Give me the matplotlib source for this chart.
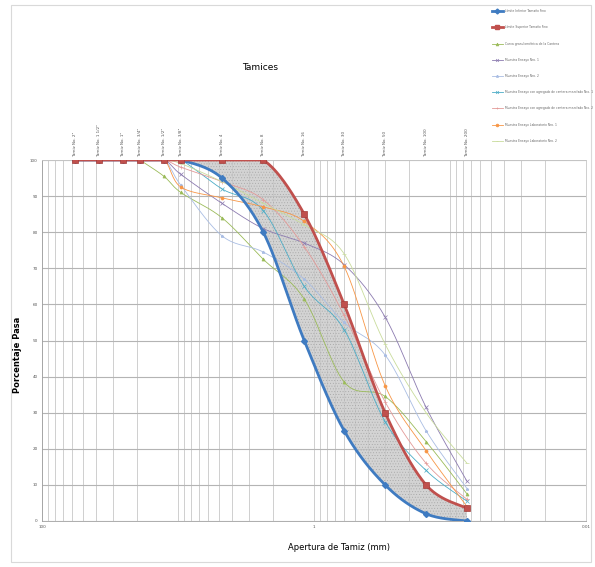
import numpy as np
import matplotlib
matplotlib.use('Agg')
import matplotlib.pyplot as plt
from matplotlib.ticker import FixedLocator, LogLocator, NullFormatter, NullLocator
from matplotlib.patches import Rectangle

# tamices y aberturas (mm)
tamices = ['Tamiz No. 2"', 'Tamiz No. 1 1/2"', 'Tamiz No. 1"', 'Tamiz No. 3/4"',
           'Tamiz No. 1/2"', 'Tamiz No. 3/8"', 'Tamiz No. 4', 'Tamiz No. 8',
           'Tamiz No. 16', 'Tamiz No. 30', 'Tamiz No. 50', 'Tamiz No. 100', 'Tamiz No. 200']
aberturas = [57.0, 38.1, 25.4, 19.05, 12.7, 9.525, 4.75, 2.36, 1.18, 0.6, 0.3, 0.15, 0.075]

lim_inf = [100, 100, 100, 100, 100, 100, 95, 80, 50, 25, 10, 2, 0]
lim_sup = [100, 100, 100, 100, 100, 100, 100, 100, 85, 60, 30, 10, 3.5]

# muestras (desde 3/4")
ab_m = aberturas[3:]
m_cantera = [100, 95.5, 91, 84, 72.5, 61.5, 38.5, 34.5, 22, 7.5]
m_ensayo1 = [100, 100, 96, 88, 81, 77, 71, 56.5, 31.5, 11]
m_ensayo2 = [100, 100, 93, 79, 74.5, 67, 55, 46, 25, 9]
m_mezcla1 = [100, 100, 100, 92, 86, 65, 53, 27.5, 14, 5.5]
m_mezcla2 = [100, 100, 98, 94, 89, 76, 57, 33, 16, 6]
m_lab1 = [100, 100, 92.5, 89.5, 87, 83, 70.5, 37.5, 19.5, 4]
m_lab2 = [100, 100, 99, 94, 88, 82, 74, 49, 30, 16]

nombres = ['Límite Inferior Tamaño Fino', 'Límite Superior Tamaño Fino',
           'Curva granulométrica de la Cantera', 'Muestra Ensayo Nro. 1',
           'Muestra Ensayo Nro. 2', 'Muestra Ensayo con agregado de cantera mezclado Nro. 1',
           'Muestra Ensayo con agregado de cantera mezclado Nro. 2',
           'Muestra Ensayo Laboratorio Nro. 1', 'Muestra Ensayo Laboratorio Nro. 2']
muestras = [m_cantera, m_ensayo1, m_ensayo2, m_mezcla1, m_mezcla2, m_lab1, m_lab2]
colores = ['#9bbb59', '#8c7bb0', '#a9bde3', '#4bacc6', '#e39a98', '#f79646', '#c9dc9c']
marcas = ['^', 'x', '*', 'x', '+', 'o', '_']

plt.rcParams['hatch.linewidth'] = 0.3

fig = plt.figure(figsize=(5.95, 5.67), dpi=100)
ax = fig.add_axes([42/595, 46/567, 544/595, 361/567])
ax.set_xscale('log')
ax.set_xlim(100, 0.01)
ax.set_ylim(0, 100)


def suave(xs, ys, n=30):
    pts = ax.transData.transform(np.column_stack([xs, ys]))
    p = np.vstack([pts[0], pts, pts[-1]])
    t = np.linspace(0, 1, n, endpoint=False)[:, None]
    out = []
    for i in range(1, len(p) - 2):
        p0, p1, p2, p3 = p[i-1], p[i], p[i+1], p[i+2]
        m1 = (p2 - p0) / 2
        m2 = (p3 - p1) / 2
        h00 = 2*t**3 - 3*t**2 + 1
        h10 = t**3 - 2*t**2 + t
        h01 = -2*t**3 + 3*t**2
        h11 = t**3 - t**2
        out.append(h00*p1 + h10*m1 + h01*p2 + h11*m2)
    out.append(pts[-1][None, :])
    d = ax.transData.inverted().transform(np.vstack(out))
    return d[:, 0], d[:, 1]


xi, yi = suave(aberturas, lim_inf)
xs, ys = suave(aberturas, lim_sup)
ys = np.minimum(ys, 100)
ax.fill(np.concatenate([xi, xs[::-1]]), np.concatenate([yi, ys[::-1]]),
        facecolor='#c8c8c8', alpha=0.8, hatch='......', edgecolor='#9a9a9a',
        linewidth=0, zorder=1.5)

handles = []
for vals, c, mk in zip(muestras, colores, marcas):
    sx, sy = suave(ab_m, vals)
    ax.plot(sx, sy, color=c, lw=0.6, zorder=2)
    ax.plot(ab_m, vals, ls='none', marker=mk, ms=2.2, color=c, mec=c, mew=0.5, zorder=2.1)
    handles.append(plt.Line2D([], [], color=c, lw=0.6, marker=mk, ms=2, mew=0.5))

ax.plot(xi, yi, color='#3f7bc1', lw=2.0, zorder=3, solid_capstyle='round')
ax.plot(aberturas, lim_inf, ls='none', marker='D', ms=3, color='#3f7bc1', zorder=3.1)
ax.plot(xs, ys, color='#c0504d', lw=2.0, zorder=4, solid_capstyle='round')
ax.plot(aberturas, lim_sup, ls='none', marker='s', ms=4.5, color='#c0504d',
        mec='#a33c39', mew=0.5, zorder=4.1)
h_inf = plt.Line2D([], [], color='#3f7bc1', lw=2.0, marker='D', ms=2.5)
h_sup = plt.Line2D([], [], color='#c0504d', lw=2.0, marker='s', ms=3)

ax.xaxis.set_major_locator(FixedLocator([100, 1, 0.01]))
ax.xaxis.set_minor_locator(LogLocator(base=10, subs=np.arange(1, 10)))
ax.xaxis.set_minor_formatter(NullFormatter())
ax.set_xticklabels(['100', '1', '0.01'])
ax.set_yticks(np.arange(0, 101, 10))
ax.tick_params(axis='both', which='both', length=0, labelsize=3, labelcolor='#555555', pad=3)
ax.grid(axis='y', which='major', color='#b4b4b4', lw=0.8)
ax.grid(axis='x', which='both', color='#c8c8c8', lw=0.6)
ax.set_axisbelow(True)
for s in ax.spines.values():
    s.set_color('#c8c8c8')
    s.set_linewidth(0.6)
ax.spines['left'].set_color('#a0a0a0')
ax.spines['bottom'].set_color('#a0a0a0')

ax2 = ax.twiny()
ax2.set_xscale('log')
ax2.set_xlim(ax.get_xlim())
ax2.xaxis.set_major_locator(FixedLocator(aberturas))
ax2.xaxis.set_minor_locator(NullLocator())
ax2.set_xticklabels(tamices, rotation=90, fontsize=3, color='#555555')
ax2.tick_params(axis='x', length=0, pad=2)
for s in ax2.spines.values():
    s.set_visible(False)

fig.text(260/595, 1 - 68/567, 'Tamices', ha='center', va='center', fontsize=6.5)
fig.text(339/595, 1 - 547/567, 'Apertura de Tamiz (mm)', ha='center', va='center', fontsize=6)
fig.text(18/595, 1 - 355/567, 'Porcentaje Pasa', ha='center', va='center',
         rotation=90, fontsize=6, fontweight='bold')

fig.legend([h_inf, h_sup] + handles, nombres, loc='upper left',
           bbox_to_anchor=(490/595, 1 - 7/567), bbox_transform=fig.transFigure,
           frameon=False, fontsize=2.2, handlelength=3.5, labelspacing=4.0,
           handletextpad=0.6, borderpad=0.2, labelcolor='#666666')

fig.patches.append(Rectangle((11/595, 5/567), 580/595, 557/567, transform=fig.transFigure,
                             fill=False, edgecolor='#d9d9d9', lw=0.8))

fig.savefig('out.png', dpi=100)
plt.close()
